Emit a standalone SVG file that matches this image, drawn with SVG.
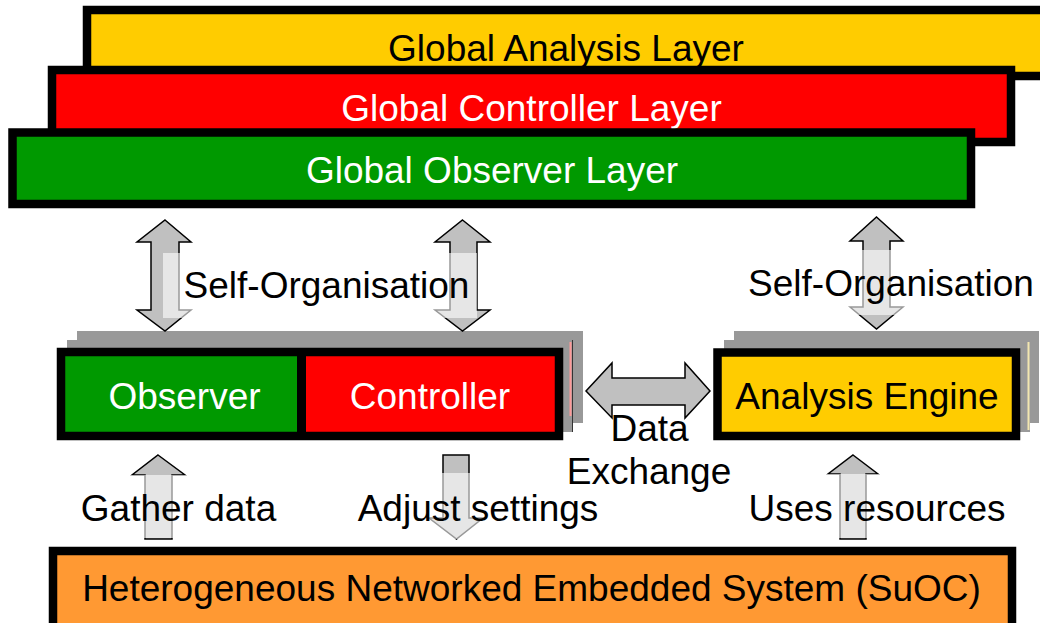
<svg xmlns="http://www.w3.org/2000/svg" width="1040" height="623" viewBox="0 0 1040 623">
  <style>
    text { font-family: "Liberation Sans", Arial, sans-serif; font-size: 37px; text-anchor: middle; }
    .dark { fill: #000000; }
    .light { fill: #ffffff; }
    .layer { stroke: #000000; stroke-width: 8.5; }
    .stack { fill: #999999; }
    .arrow { fill: #c0c0c0; stroke: #000000; stroke-width: 1.5; stroke-linejoin: miter; }
    .veil { fill: #ffffff; fill-opacity: 0.6; }
  </style>

  <rect width="1040" height="623" fill="#ffffff"/>

  <!-- global layers, back to front -->
  <g id="global-analysis-layer">
    <rect class="layer" x="87" y="10" width="958" height="66" fill="#ffcc00"/>
    <text class="dark" x="566" y="61">Global Analysis Layer</text>
  </g>
  <g id="global-controller-layer">
    <rect class="layer" x="52" y="70" width="959" height="72" fill="#ff0000"/>
    <text class="light" x="531.5" y="121">Global Controller Layer</text>
  </g>
  <g id="global-observer-layer">
    <rect class="layer" x="12.5" y="132.5" width="958.5" height="71.5" fill="#009900"/>
    <text class="light" x="492" y="183">Global Observer Layer</text>
  </g>

  <!-- local observer / controller pair with stacked copies behind -->
  <g id="observer-controller">
    <rect class="stack" x="77" y="331" width="506" height="92"/>
    <rect class="stack" x="67" y="340" width="506" height="92"/>
    <line x1="572.5" y1="340" x2="572.5" y2="432" stroke="#333333" stroke-width="1"/>
    <line x1="570.5" y1="342" x2="570.5" y2="416" stroke="#ff9999" stroke-width="2"/>
    <rect x="61" y="352" width="240" height="84" fill="#009900"/>
    <rect x="301" y="352" width="258" height="84" fill="#ff0000"/>
    <rect x="61" y="352" width="498" height="84" fill="none" stroke="#000000" stroke-width="8.5"/>
    <line x1="301.5" y1="352" x2="301.5" y2="436" stroke="#000000" stroke-width="9"/>
  </g>
  <g id="observer">
    <text class="light" x="184.5" y="409">Observer</text>
  </g>
  <g id="controller">
    <text class="light" x="430" y="409">Controller</text>
  </g>

  <!-- analysis engine with stacked copies behind -->
  <g id="analysis-engine">
    <rect class="stack" x="734" y="331" width="305" height="92"/>
    <rect class="stack" x="724" y="340" width="306" height="92"/>
    <line x1="1028.5" y1="342" x2="1028.5" y2="430" stroke="#f2e6b0" stroke-width="2"/>
    <rect x="717.5" y="352.5" width="298.5" height="83.5" fill="#ffcc00" stroke="#000000" stroke-width="8.5"/>
    <text class="dark" x="867" y="409">Analysis Engine</text>
  </g>

  <!-- system under observation and control -->
  <g id="suoc">
    <rect class="layer" x="53" y="551" width="959" height="84" fill="#ff9933"/>
    <text class="dark" x="531.5" y="601">Heterogeneous Networked Embedded System (SuOC)</text>
  </g>

  <!-- connectors -->
  <g id="connectors">
    <!-- self-organisation, two-way -->
    <path class="arrow" d="M165,220 L191,242 L179,242 L179,310 L191,310 L165,331 L137,310 L151,310 L151,242 L137,242 Z"/>
    <path class="arrow" d="M462.5,220 L490,242 L477,242 L477,310 L490,310 L462.5,331 L435,310 L450,310 L450,242 L435,242 Z"/>
    <path class="arrow" d="M876.5,217 L903,241 L890,241 L890,307 L903,307 L876.5,329 L850,307 L863,307 L863,241 L850,241 Z"/>
    <!-- data exchange, two-way -->
    <path class="arrow" d="M586,391 L612,363 L612,378 L685,378 L685,363 L710,391 L685,418 L685,405 L612,405 L612,418 Z"/>
    <!-- gather data, up -->
    <path class="arrow" d="M158,455 L185,475 L172,475 L172,539 L145,539 L145,475 L132,475 Z"/>
    <!-- adjust settings, down -->
    <path class="arrow" d="M443,455 L469,455 L469,518 L483,518 L456.5,539 L429,518 L443,518 Z"/>
    <!-- uses resources, up -->
    <path class="arrow" d="M853,455 L878,474 L866,474 L866,539 L840,539 L840,474 L828,474 Z"/>

    <!-- label backgrounds -->
    <rect class="veil" x="163" y="253" width="314" height="65"/>
    <rect class="veil" x="745" y="250" width="292" height="65"/>
    <rect class="veil" x="75" y="475" width="205" height="63"/>
    <rect class="veil" x="350" y="473" width="255" height="66"/>
    <rect class="veil" x="745" y="474" width="265" height="64"/>

    <!-- labels -->
    <text class="dark" x="326.5" y="298">Self-Organisation</text>
    <text class="dark" x="891" y="296">Self-Organisation</text>
    <text class="dark" x="649.5" y="441">Data</text>
    <text class="dark" x="649" y="484">Exchange</text>
    <text class="dark" x="178.5" y="521">Gather data</text>
    <text class="dark" x="478" y="521">Adjust settings</text>
    <text class="dark" x="877" y="521">Uses resources</text>
  </g>
</svg>
